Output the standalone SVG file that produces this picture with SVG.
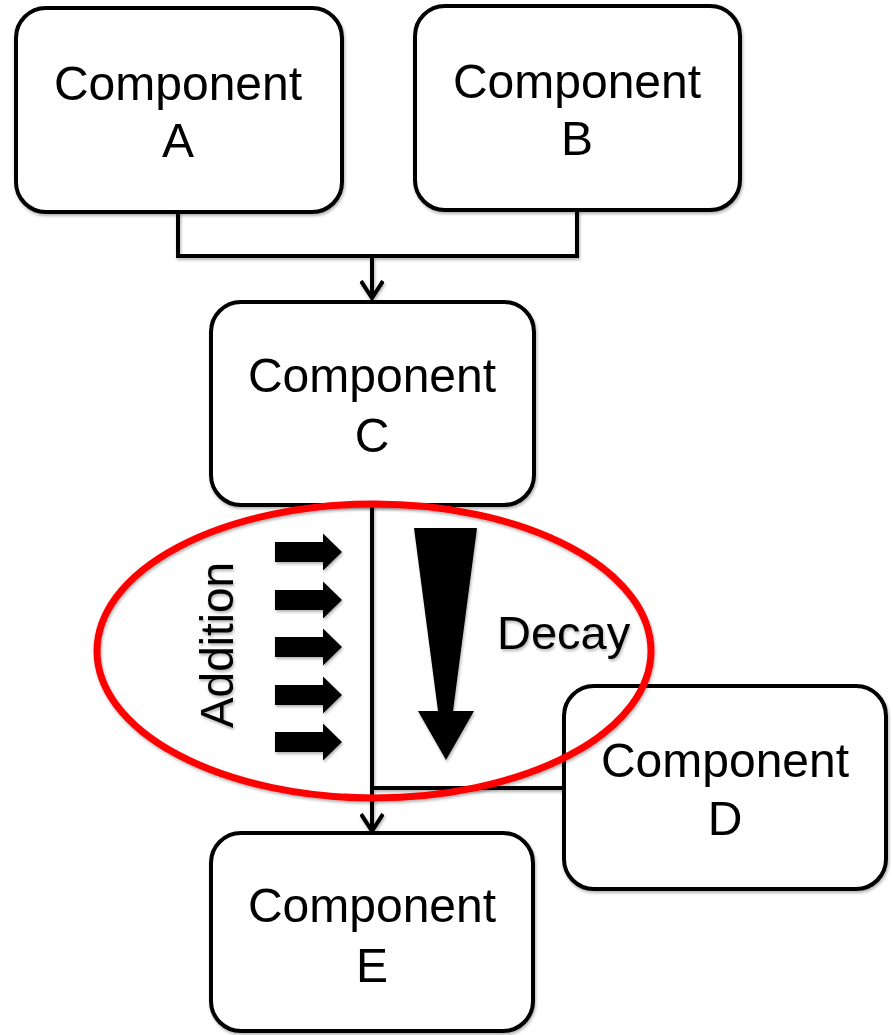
<svg xmlns="http://www.w3.org/2000/svg" width="893" height="1035" viewBox="0 0 893 1035">
  <defs>
    <filter id="shadow" x="-10%" y="-10%" width="120%" height="120%">
      <feDropShadow dx="1" dy="2" stdDeviation="1.5" flood-color="#000" flood-opacity="0.3"/>
    </filter>
    <marker id="vee" viewBox="0 0 20 24" refX="18" refY="12" markerWidth="20" markerHeight="24" markerUnits="userSpaceOnUse" orient="auto">
      <path d="M1,1 L18,12 L1,23" fill="none" stroke="#000" stroke-width="4" stroke-linejoin="miter"/>
    </marker>
    <path id="push" d="M0,-10 L48,-10 L48,-18.5 L67,0 L48,18.5 L48,10 L0,10 Z"/>
  </defs>
  <style>
    .box { fill: #fff; stroke: #000; stroke-width: 4; }
    .label { font-family: "Liberation Sans", Arial, sans-serif; font-size: 48px; fill: #000; text-anchor: middle; }
    .wire { fill: none; stroke: #000; stroke-width: 4; }
    .solid { fill: #000; }
  </style>
  <rect width="893" height="1035" fill="#fff"/>

  <!-- connectors -->
  <g id="connectors" filter="url(#shadow)">
    <path class="wire" d="M178,212 V256 H577 V210"/>
    <path class="wire" d="M372,256 V298" marker-end="url(#vee)"/>
    <path class="wire" d="M372,505 V831" marker-end="url(#vee)"/>
    <path class="wire" d="M372,788 H565"/>
  </g>

  <!-- inflow arrows and decay arrow -->
  <g id="addition" filter="url(#shadow)">
    <use href="#push" class="solid" x="275" y="552"/>
    <use href="#push" class="solid" x="275" y="600"/>
    <use href="#push" class="solid" x="275" y="647"/>
    <use href="#push" class="solid" x="275" y="695"/>
    <use href="#push" class="solid" x="275" y="742"/>
    <text font-family="'Liberation Sans', Arial, sans-serif" font-size="46" text-anchor="middle" transform="translate(233,645) rotate(-90)">Addition</text>
  </g>
  <g id="decay" filter="url(#shadow)">
    <polygon class="solid" points="414,528 477,528 453,711 474,711 446,760 418,711 438,711"/>
    <text x="497" y="649" font-family="'Liberation Sans', Arial, sans-serif" font-size="47">Decay</text>
  </g>

  <!-- nodes -->
  <g id="componentA" filter="url(#shadow)">
    <rect class="box" x="16" y="8" width="326" height="204" rx="30"/>
    <text class="label" x="178" y="100">Component</text>
    <text class="label" x="178" y="157">A</text>
  </g>
  <g id="componentB" filter="url(#shadow)">
    <rect class="box" x="415" y="6" width="325" height="204" rx="30"/>
    <text class="label" x="577" y="98">Component</text>
    <text class="label" x="577" y="155">B</text>
  </g>
  <g id="componentC" filter="url(#shadow)">
    <rect class="box" x="211" y="302" width="323" height="203" rx="30"/>
    <text class="label" x="372" y="392">Component</text>
    <text class="label" x="372" y="452">C</text>
  </g>
  <g id="componentD" filter="url(#shadow)">
    <rect class="box" x="564" y="686" width="322" height="203" rx="30"/>
    <text class="label" x="725" y="777">Component</text>
    <text class="label" x="725" y="835">D</text>
  </g>
  <g id="componentE" filter="url(#shadow)">
    <rect class="box" x="211" y="833" width="322" height="198" rx="30"/>
    <text class="label" x="372" y="922">Component</text>
    <text class="label" x="372" y="982">E</text>
  </g>

  <!-- highlight ring -->
  <g id="highlight" filter="url(#shadow)">
    <ellipse cx="374" cy="651" rx="277" ry="147" fill="none" stroke="#ff0000" stroke-width="7"/>
  </g>
</svg>
